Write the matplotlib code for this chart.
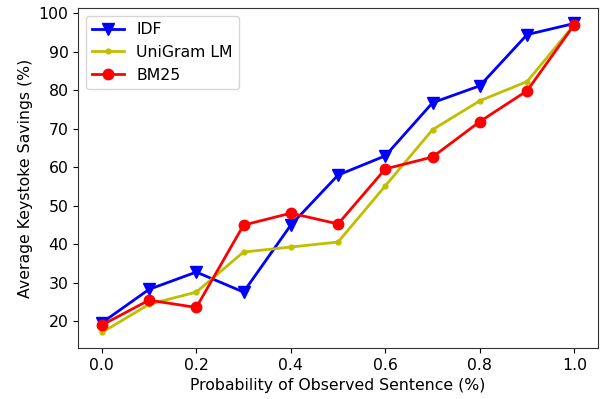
import matplotlib
matplotlib.use("Agg")
import matplotlib.pyplot as plt

x = [0.0, 0.1, 0.2, 0.3, 0.4, 0.5, 0.6, 0.7, 0.8, 0.9, 1.0]
idf = [19.6, 28.3, 32.8, 27.6, 45.0, 58.0, 63.0, 76.8, 81.2, 94.5, 97.4]
unigram = [17.1, 24.4, 27.6, 38.0, 39.3, 40.6, 55.2, 69.8, 77.3, 82.3, 97.1]
bm25 = [19.0, 25.5, 23.6, 45.0, 48.1, 45.3, 59.6, 62.7, 71.9, 79.9, 97.1]

plt.rcParams['font.size'] = 11.3
fig, ax = plt.subplots(figsize=(6.01, 3.99), dpi=100)
ax.plot(x, idf, 'b-v', label='IDF', markersize=8, linewidth=2)
ax.plot(x, unigram, 'y.-', label='UniGram LM', markersize=7, linewidth=2)
ax.plot(x, bm25, 'r-o', label='BM25', markersize=7.5, linewidth=2)
ax.set_xlabel('Probability of Observed Sentence (%)')
ax.set_ylabel('Average Keystoke Savings (%)')
ax.legend(loc='upper left')
for s in ax.spines.values():
    s.set_color('#333333')
fig.subplots_adjust(left=0.13, right=0.995, top=0.98, bottom=0.128)
fig.savefig('out.png', dpi=100)
